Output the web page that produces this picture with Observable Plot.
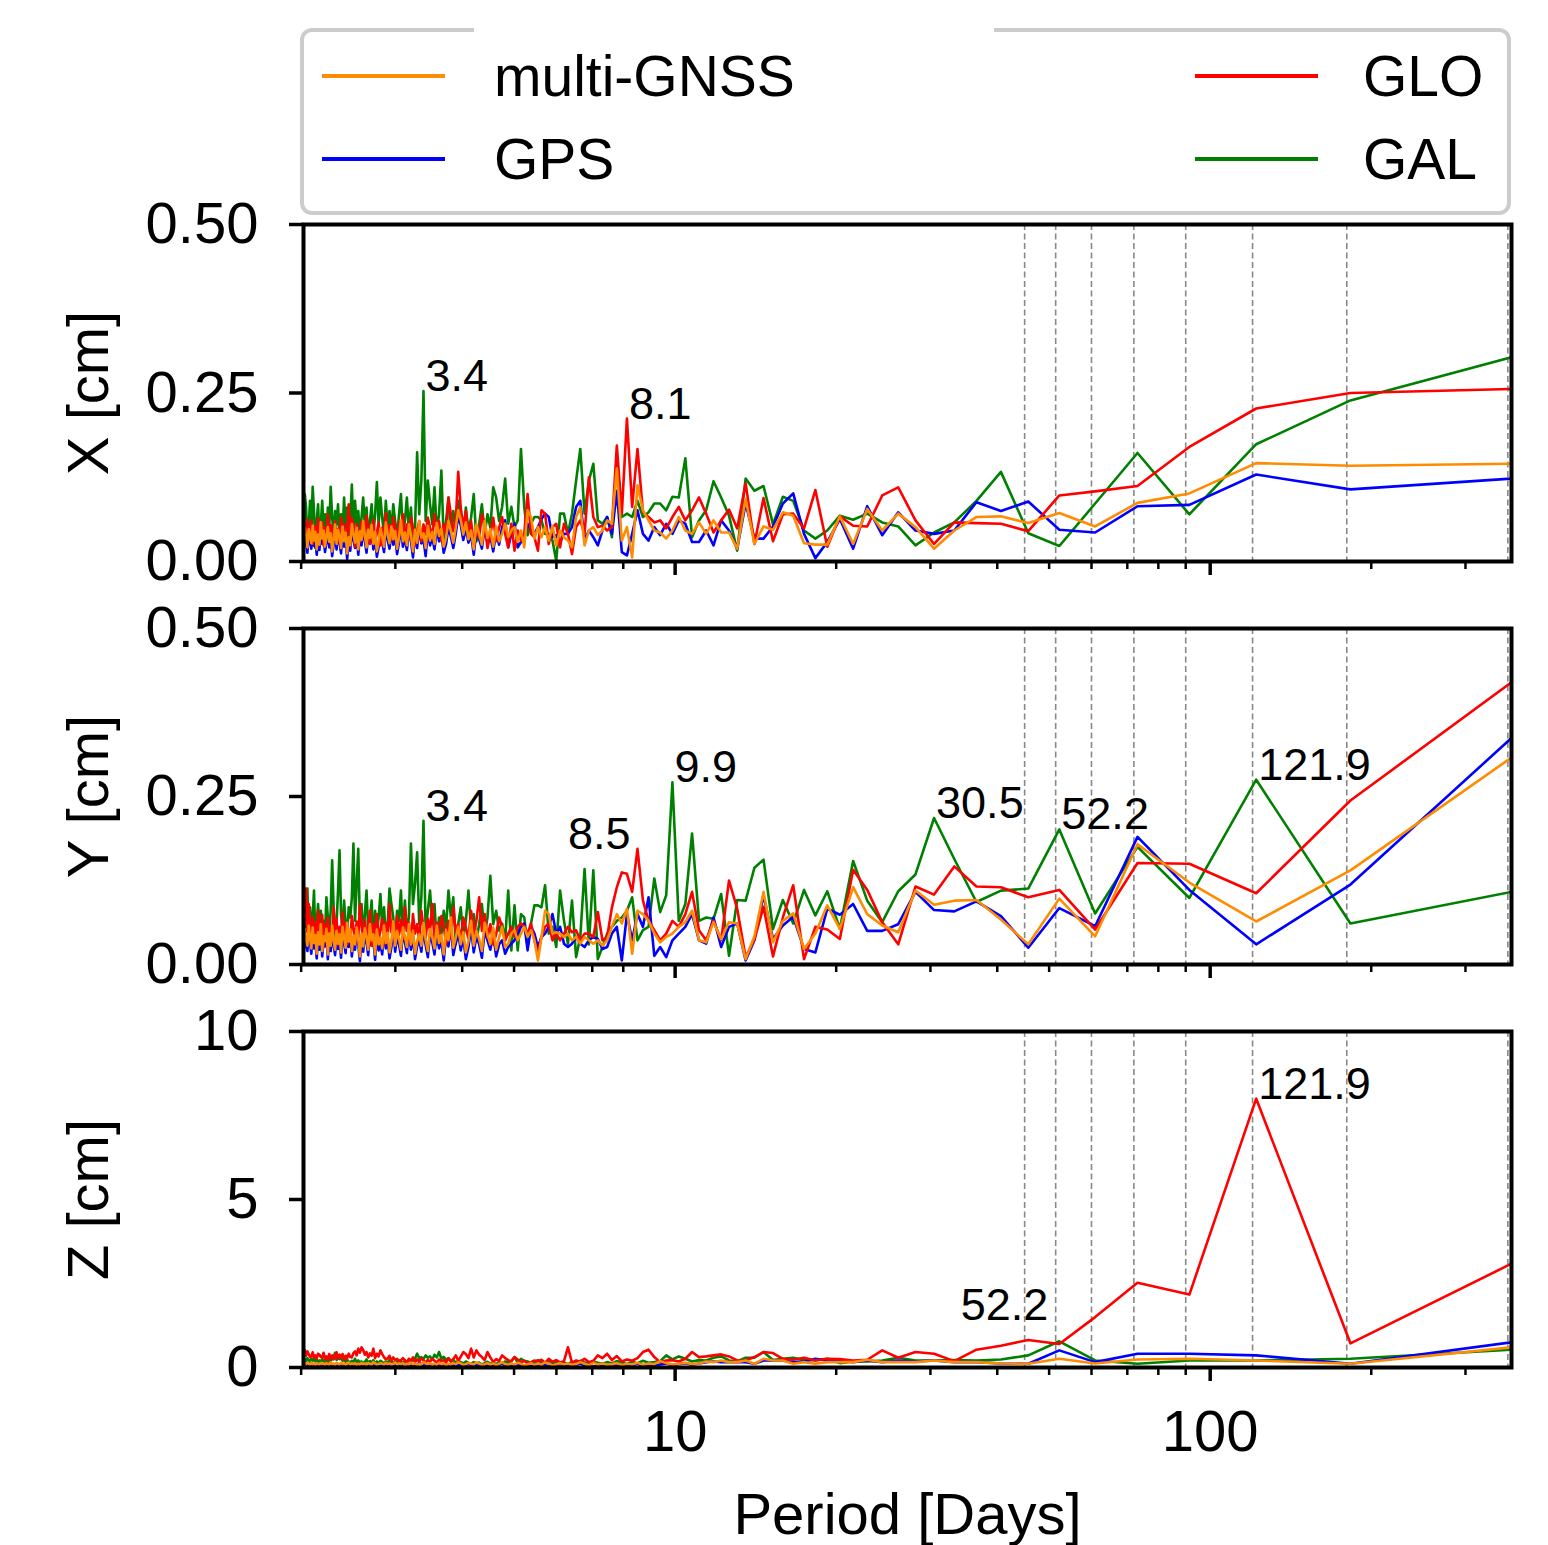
<!DOCTYPE html>
<html><head><meta charset="utf-8">
<script src="https://cdn.jsdelivr.net/npm/d3@7"></script>
<script src="https://cdn.jsdelivr.net/npm/@observablehq/plot@0.6"></script>
<style>
body{margin:0;background:#fff;width:1548px;height:1545px;position:relative;overflow:hidden;font-family:"Liberation Sans",Arial,sans-serif;color:#000;}
.panel{position:absolute;left:0;}
#legend{position:absolute;left:300px;top:28px;width:1211px;height:187px;box-sizing:border-box;border:4px solid #cccccc;border-radius:12px;background:#fff;}
#gap{position:absolute;left:474px;top:27px;width:520px;height:7px;background:#fff;}
.lh{position:absolute;height:4px;width:123px;}
.lt{position:absolute;font-size:57px;line-height:1;transform:translateY(-50%);white-space:nowrap;}
</style></head><body>
<div id="legend"></div>
<div id="gap"></div>
<div id="px" class="panel"></div>
<div id="py" class="panel"></div>
<div id="pz" class="panel"></div>
<script>
// ---- data: spectrum amplitudes (cm) for harmonic k = 1..181, period = T / k ----
const T = 365.7;
const seriesNames = ["multi-GNSS", "GPS", "GLO", "GAL"];
const seriesColors = ["#ff8c00", "#0000ff", "#ff0000", "#008000"];
const drawOrder = ["GAL", "GPS", "GLO", "multi-GNSS"];
const harmonicPeriods = [360, 180, 120, 90, 72, 60, 51.43, 45];
const majorTicks = [10, 100];
const minorTicks = [2,3,4,5,6,7,8,9,20,30,40,50,60,70,80,90,200,300];

const xMulti = [
0.145,0.142,0.146,0.101,0.087,0.052,0.072,0.057,0.067,0.066,
0.046,0.019,0.051,0.071,0.046,0.078,0.026,0.067,0.025,0.025,
0.027,0.068,0.073,0.047,0.052,0.026,0.093,0.019,0.043,0.043,
0.061,0.041,0.058,0.041,0.046,0.066,0.046,0.034,0.043,0.046,
0.061,0.076,0.113,0.006,0.051,0.031,0.138,0.056,0.061,0.046,
0.039,0.051,0.046,0.024,0.081,0.066,0.021,0.031,0.036,0.046,
0.024,0.053,0.031,0.051,0.036,0.051,0.034,0.066,0.076,0.021,
0.046,0.029,0.051,0.046,0.036,0.056,0.041,0.030,0.052,0.022,
0.048,0.035,0.060,0.025,0.041,0.055,0.018,0.046,0.033,0.058,
0.040,0.062,0.076,0.050,0.028,0.045,0.060,0.035,0.022,0.049,
0.038,0.057,0.026,0.044,0.031,0.053,0.020,0.042,0.035,0.060,
0.028,0.047,0.015,0.039,0.055,0.024,0.043,0.030,0.061,0.036,
0.019,0.045,0.033,0.052,0.027,0.040,0.058,0.022,0.037,0.049,
0.030,0.015,0.044,0.026,0.054,0.035,0.047,0.021,0.039,0.060,
0.032,0.045,0.018,0.050,0.028,0.041,0.056,0.024,0.036,0.012,
0.043,0.030,0.052,0.020,0.038,0.047,0.026,0.055,0.033,0.015,
0.042,0.029,0.051,0.037,0.022,0.046,0.034,0.058,0.025,0.040,
0.018,0.044,0.031,0.053,0.027,0.039,0.048,0.021,0.036,0.050,
0.030];
const xGPS = [
0.123,0.107,0.129,0.084,0.082,0.043,0.047,0.089,0.075,0.088,
0.046,0.041,0.046,0.073,0.039,0.082,0.019,0.063,0.029,0.005,
0.041,0.101,0.086,0.052,0.034,0.034,0.086,0.019,0.046,0.061,
0.024,0.046,0.029,0.029,0.056,0.061,0.041,0.056,0.039,0.051,
0.031,0.041,0.076,0.041,0.009,0.014,0.105,0.041,0.066,0.046,
0.024,0.036,0.046,0.031,0.090,0.081,0.051,0.041,0.041,0.029,
0.039,0.036,0.066,0.071,0.063,0.051,0.041,0.046,0.056,0.036,
0.029,0.021,0.056,0.041,0.021,0.061,0.051,0.025,0.044,0.015,
0.038,0.027,0.050,0.019,0.033,0.046,0.010,0.040,0.028,0.049,
0.032,0.054,0.068,0.041,0.020,0.037,0.051,0.026,0.013,0.042,
0.030,0.048,0.018,0.036,0.024,0.045,0.008,0.033,0.027,0.051,
0.020,0.039,0.006,0.031,0.046,0.017,0.035,0.022,0.052,0.028,
0.011,0.037,0.025,0.044,0.019,0.032,0.049,0.014,0.029,0.041,
0.022,0.007,0.036,0.018,0.045,0.027,0.039,0.013,0.031,0.050,
0.024,0.037,0.010,0.042,0.020,0.033,0.047,0.016,0.028,0.004,
0.035,0.022,0.044,0.012,0.030,0.039,0.018,0.046,0.025,0.008,
0.034,0.021,0.043,0.029,0.014,0.038,0.026,0.049,0.017,0.032,
0.010,0.036,0.023,0.045,0.019,0.031,0.040,0.013,0.028,0.042,
0.022];
const xGLO = [
0.256,0.250,0.227,0.170,0.112,0.104,0.098,0.045,0.056,0.057,
0.058,0.026,0.061,0.110,0.098,0.052,0.053,0.067,0.022,0.106,
0.049,0.071,0.070,0.030,0.094,0.026,0.116,0.049,0.077,0.061,
0.043,0.071,0.095,0.076,0.061,0.081,0.066,0.049,0.061,0.058,
0.066,0.073,0.167,0.081,0.212,0.071,0.172,0.051,0.046,0.053,
0.051,0.066,0.125,0.041,0.061,0.051,0.011,0.041,0.056,0.021,
0.056,0.051,0.026,0.071,0.076,0.016,0.036,0.041,0.100,0.041,
0.031,0.046,0.016,0.056,0.021,0.041,0.066,0.050,0.030,0.065,
0.040,0.020,0.055,0.070,0.035,0.050,0.025,0.060,0.040,0.075,
0.050,0.080,0.133,0.060,0.045,0.070,0.095,0.040,0.055,0.030,
0.060,0.045,0.070,0.035,0.050,0.065,0.040,0.055,0.030,0.060,
0.045,0.025,0.050,0.065,0.035,0.055,0.030,0.070,0.040,0.058,
0.028,0.048,0.066,0.032,0.054,0.040,0.072,0.036,0.050,0.024,
0.058,0.042,0.030,0.062,0.046,0.026,0.052,0.068,0.034,0.048,
0.060,0.030,0.044,0.056,0.022,0.050,0.064,0.038,0.085,0.042,
0.030,0.055,0.040,0.066,0.028,0.048,0.035,0.060,0.044,0.026,
0.054,0.038,0.070,0.032,0.050,0.024,0.058,0.042,0.036,0.064,
0.030,0.052,0.046,0.026,0.060,0.040,0.034,0.062,0.044,0.056,
0.036];
const xGAL = [
0.303,0.239,0.174,0.070,0.161,0.086,0.023,0.042,0.133,0.090,
0.058,0.043,0.024,0.052,0.058,0.071,0.062,0.068,0.046,0.034,
0.046,0.090,0.096,0.055,0.112,0.105,0.123,0.016,0.068,0.095,
0.119,0.076,0.061,0.036,0.153,0.095,0.096,0.076,0.086,0.086,
0.073,0.066,0.090,0.066,0.071,0.066,0.155,0.036,0.066,0.056,
0.061,0.145,0.120,0.071,0.167,0.120,0.071,0.041,0.071,0.071,
0.001,0.031,0.041,0.041,0.061,0.066,0.066,0.056,0.039,0.081,
0.167,0.061,0.051,0.081,0.056,0.123,0.081,0.060,0.095,0.110,
0.050,0.070,0.040,0.085,0.055,0.030,0.100,0.065,0.045,0.080,
0.035,0.070,0.090,0.050,0.075,0.040,0.095,0.060,0.030,0.135,
0.070,0.045,0.110,0.055,0.085,0.120,0.060,0.253,0.120,0.070,
0.162,0.050,0.030,0.080,0.045,0.095,0.060,0.040,0.100,0.070,
0.035,0.060,0.085,0.045,0.075,0.050,0.090,0.040,0.065,0.095,
0.055,0.118,0.070,0.040,0.085,0.060,0.030,0.080,0.050,0.095,
0.065,0.040,0.075,0.055,0.090,0.045,0.114,0.060,0.035,0.080,
0.050,0.095,0.040,0.070,0.030,0.085,0.055,0.075,0.040,0.065,
0.111,0.050,0.080,0.030,0.070,0.045,0.090,0.055,0.035,0.085,
0.060,0.020,0.075,0.111,0.040,0.090,0.050,0.030,0.080,0.100,
0.050];

const yMulti = [
0.308,0.140,0.064,0.122,0.179,0.042,0.098,0.030,0.067,0.096,
0.095,0.089,0.110,0.048,0.058,0.075,0.115,0.053,0.088,0.046,
0.023,0.076,0.065,0.033,0.108,0.042,0.008,0.061,0.063,0.038,
0.063,0.033,0.036,0.080,0.063,0.056,0.046,0.041,0.033,0.046,
0.065,0.075,0.080,0.016,0.083,0.061,0.075,0.056,0.036,0.028,
0.036,0.031,0.036,0.041,0.031,0.041,0.036,0.046,0.041,0.046,
0.048,0.046,0.075,0.080,0.041,0.006,0.036,0.051,0.041,0.056,
0.046,0.036,0.051,0.046,0.031,0.026,0.056,0.040,0.022,0.055,
0.030,0.045,0.062,0.020,0.038,0.050,0.028,0.065,0.035,0.018,
0.048,0.030,0.056,0.040,0.025,0.070,0.036,0.050,0.015,0.044,
0.032,0.058,0.024,0.041,0.053,0.020,0.037,0.062,0.028,0.045,
0.035,0.016,0.050,0.030,0.060,0.026,0.042,0.055,0.022,0.038,
0.050,0.028,0.064,0.034,0.018,0.047,0.032,0.058,0.024,0.040,
0.030,0.052,0.015,0.045,0.036,0.060,0.022,0.041,0.054,0.027,
0.046,0.012,0.038,0.055,0.030,0.043,0.020,0.052,0.034,0.062,
0.025,0.040,0.056,0.018,0.045,0.031,0.050,0.022,0.037,0.058,
0.028,0.046,0.015,0.053,0.035,0.042,0.020,0.060,0.030,0.048,
0.016,0.044,0.032,0.055,0.024,0.040,0.058,0.028,0.036,0.050,
0.040];
const yGPS = [
0.337,0.119,0.030,0.111,0.190,0.057,0.084,0.025,0.072,0.094,
0.079,0.081,0.108,0.060,0.050,0.050,0.090,0.074,0.083,0.018,
0.023,0.071,0.058,0.038,0.103,0.036,0.006,0.061,0.056,0.026,
0.070,0.031,0.036,0.075,0.056,0.046,0.036,0.011,0.026,0.013,
0.100,0.056,0.075,0.036,0.075,0.006,0.056,0.046,0.026,0.023,
0.038,0.041,0.036,0.026,0.031,0.041,0.031,0.026,0.031,0.056,
0.046,0.075,0.056,0.046,0.041,0.026,0.046,0.056,0.021,0.061,
0.056,0.046,0.036,0.031,0.026,0.016,0.036,0.030,0.012,0.045,
0.022,0.036,0.050,0.010,0.030,0.042,0.018,0.055,0.026,0.008,
0.040,0.021,0.047,0.032,0.014,0.060,0.027,0.042,0.006,0.035,
0.024,0.050,0.015,0.033,0.046,0.011,0.029,0.054,0.019,0.037,
0.027,0.008,0.043,0.022,0.052,0.017,0.034,0.047,0.013,0.030,
0.042,0.019,0.056,0.026,0.009,0.039,0.024,0.050,0.015,0.032,
0.021,0.044,0.007,0.037,0.028,0.052,0.014,0.033,0.046,0.019,
0.038,0.005,0.030,0.047,0.022,0.035,0.012,0.044,0.026,0.054,
0.017,0.032,0.048,0.010,0.037,0.023,0.042,0.014,0.029,0.050,
0.020,0.038,0.008,0.045,0.027,0.034,0.012,0.052,0.022,0.040,
0.009,0.036,0.024,0.047,0.016,0.032,0.050,0.020,0.028,0.042,
0.030];
const yGLO = [
0.420,0.244,0.106,0.150,0.151,0.052,0.111,0.100,0.115,0.116,
0.146,0.104,0.116,0.030,0.063,0.111,0.141,0.038,0.052,0.056,
0.008,0.118,0.070,0.012,0.086,0.037,0.011,0.083,0.125,0.036,
0.065,0.036,0.051,0.108,0.075,0.056,0.065,0.046,0.036,0.051,
0.065,0.095,0.172,0.108,0.135,0.137,0.115,0.085,0.041,0.036,
0.078,0.041,0.046,0.046,0.036,0.051,0.048,0.056,0.046,0.036,
0.046,0.036,0.061,0.056,0.041,0.016,0.036,0.061,0.046,0.056,
0.061,0.056,0.041,0.056,0.046,0.036,0.056,0.070,0.045,0.030,
0.060,0.040,0.075,0.050,0.100,0.065,0.045,0.080,0.038,0.055,
0.070,0.035,0.060,0.048,0.085,0.040,0.065,0.030,0.058,0.072,
0.045,0.062,0.035,0.090,0.050,0.068,0.040,0.055,0.080,0.036,
0.060,0.046,0.075,0.030,0.062,0.050,0.085,0.038,0.066,0.044,
0.072,0.035,0.055,0.048,0.090,0.040,0.062,0.030,0.068,0.052,
0.036,0.075,0.045,0.060,0.028,0.080,0.050,0.042,0.066,0.035,
0.058,0.090,0.040,0.064,0.032,0.055,0.072,0.038,0.050,0.030,
0.062,0.044,0.078,0.036,0.056,0.030,0.068,0.048,0.085,0.040,
0.055,0.034,0.070,0.046,0.060,0.028,0.074,0.042,0.052,0.080,
0.038,0.062,0.045,0.070,0.030,0.058,0.090,0.048,0.113,0.060,
0.100];
const yGAL = [
0.108,0.061,0.275,0.099,0.175,0.076,0.201,0.113,0.110,0.093,
0.157,0.218,0.134,0.109,0.063,0.095,0.154,0.053,0.109,0.073,
0.111,0.061,0.096,0.053,0.156,0.144,0.095,0.096,0.013,0.105,
0.068,0.070,0.065,0.195,0.090,0.065,0.271,0.103,0.078,0.128,
0.056,0.051,0.036,0.100,0.080,0.070,0.065,0.056,0.046,0.026,
0.008,0.140,0.030,0.142,0.041,0.011,0.095,0.031,0.065,0.110,
0.026,0.056,0.046,0.118,0.085,0.088,0.088,0.061,0.026,0.070,
0.075,0.021,0.088,0.021,0.110,0.036,0.061,0.050,0.080,0.060,
0.132,0.070,0.045,0.090,0.060,0.035,0.075,0.050,0.110,0.065,
0.040,0.085,0.060,0.030,0.100,0.070,0.110,0.055,0.080,0.045,
0.070,0.030,0.090,0.060,0.110,0.080,0.050,0.214,0.100,0.060,
0.167,0.120,0.090,0.180,0.070,0.050,0.095,0.040,0.110,0.065,
0.080,0.035,0.070,0.090,0.113,0.060,0.040,0.085,0.055,0.105,
0.070,0.045,0.080,0.030,0.095,0.065,0.050,0.110,0.075,0.040,
0.090,0.060,0.172,0.120,0.065,0.180,0.100,0.070,0.085,0.045,
0.060,0.095,0.050,0.075,0.170,0.110,0.060,0.040,0.085,0.155,
0.080,0.050,0.070,0.100,0.045,0.065,0.035,0.080,0.055,0.090,
0.060,0.040,0.110,0.070,0.050,0.085,0.030,0.113,0.070,0.055,
0.080];

const zMulti = [
0.60,0.11,0.21,0.26,0.24,0.12,0.26,0.11,0.12,0.16,
0.16,0.21,0.16,0.16,0.16,0.23,0.16,0.16,0.16,0.11,
0.16,0.11,0.21,0.21,0.26,0.11,0.21,0.16,0.16,0.21,
0.16,0.18,0.12,0.10,0.14,0.11,0.09,0.13,0.19,0.10,
0.12,0.08,0.14,0.09,0.11,0.07,0.13,0.10,0.08,0.12,
0.09,0.14,0.07,0.11,0.16,0.10,0.08,0.12,0.09,0.13,
0.10,0.07,0.12,0.15,0.09,0.11,0.08,0.13,0.10,0.06,
0.11,0.14,0.09,0.12,0.08,0.10,0.16,0.11,0.07,0.12,
0.09,0.13,0.10,0.08,0.12,0.15,0.09,0.11,0.14,0.10,
0.08,0.12,0.16,0.10,0.13,0.09,0.11,0.07,0.12,0.10,
0.14,0.09,0.11,0.08,0.13,0.10,0.12,0.16,0.09,0.11,
0.08,0.12,0.10,0.14,0.09,0.11,0.07,0.13,0.10,0.12,
0.09,0.15,0.11,0.08,0.12,0.10,0.14,0.09,0.11,0.13,
0.10,0.08,0.12,0.16,0.09,0.11,0.13,0.08,0.12,0.10,
0.14,0.09,0.11,0.07,0.13,0.10,0.12,0.09,0.15,0.11,
0.08,0.12,0.10,0.14,0.09,0.11,0.13,0.08,0.12,0.10,
0.15,0.09,0.11,0.13,0.08,0.12,0.10,0.14,0.09,0.11,
0.13,0.08,0.12,0.10,0.15,0.09,0.11,0.14,0.10,0.12,
0.16];
const zGPS = [
0.75,0.11,0.36,0.41,0.41,0.16,0.51,0.11,0.12,0.16,
0.16,0.21,0.18,0.21,0.16,0.21,0.16,0.21,0.21,0.26,
0.18,0.16,0.21,0.21,0.21,0.11,0.16,0.16,0.16,0.16,
0.18,0.16,0.12,0.08,0.13,0.10,0.07,0.12,0.09,0.06,
0.08,0.05,0.11,0.06,0.09,0.04,0.07,0.10,0.05,0.08,
0.06,0.03,0.09,0.05,0.12,0.07,0.04,0.08,0.06,0.10,
0.05,0.09,0.04,0.07,0.11,0.06,0.08,0.03,0.07,0.05,
0.09,0.06,0.10,0.04,0.08,0.05,0.12,0.07,0.03,0.06,
0.08,0.05,0.10,0.06,0.04,0.09,0.07,0.05,0.11,0.06,
0.04,0.08,0.06,0.10,0.05,0.07,0.03,0.09,0.06,0.08,
0.05,0.12,0.07,0.04,0.09,0.06,0.08,0.05,0.10,0.14,
0.07,0.05,0.09,0.06,0.04,0.08,0.06,0.11,0.05,0.07,
0.09,0.04,0.07,0.05,0.10,0.06,0.08,0.03,0.07,0.05,
0.09,0.06,0.04,0.08,0.05,0.11,0.07,0.05,0.09,0.06,
0.04,0.08,0.06,0.10,0.05,0.07,0.04,0.09,0.06,0.08,
0.05,0.10,0.07,0.04,0.08,0.06,0.12,0.05,0.07,0.09,
0.06,0.04,0.08,0.05,0.10,0.07,0.04,0.09,0.06,0.08,
0.05,0.07,0.10,0.06,0.04,0.08,0.05,0.11,0.07,0.06,
0.09];
const zGLO = [
3.09,0.72,8.00,2.17,2.52,1.50,0.70,0.82,0.65,0.53,
0.19,0.41,0.46,0.29,0.51,0.23,0.21,0.25,0.26,0.21,
0.29,0.23,0.26,0.43,0.46,0.31,0.21,0.21,0.33,0.39,
0.36,0.33,0.31,0.46,0.26,0.18,0.22,0.21,0.16,0.31,
0.53,0.46,0.28,0.20,0.24,0.18,0.34,0.22,0.41,0.28,
0.36,0.20,0.16,0.26,0.18,0.21,0.14,0.60,0.19,0.15,
0.22,0.17,0.26,0.14,0.23,0.18,0.21,0.16,0.12,0.20,
0.15,0.24,0.31,0.18,0.22,0.28,0.36,0.20,0.25,0.16,
0.30,0.46,0.22,0.31,0.38,0.51,0.30,0.56,0.28,0.40,
0.46,0.32,0.20,0.36,0.25,0.18,0.27,0.15,0.22,0.19,
0.24,0.14,0.20,0.26,0.17,0.23,0.15,0.21,0.28,0.18,
0.24,0.16,0.30,0.20,0.26,0.14,0.22,0.28,0.21,0.18,
0.26,0.22,0.30,0.19,0.35,0.27,0.24,0.31,0.40,0.51,
0.33,0.41,0.28,0.56,0.35,0.42,0.30,0.46,0.38,0.52,
0.60,0.44,0.56,0.36,0.48,0.43,0.30,0.31,0.41,0.28,
0.35,0.22,0.40,0.30,0.38,0.26,0.45,0.31,0.24,0.36,
0.28,0.40,0.22,0.33,0.25,0.44,0.30,0.31,0.38,0.41,
0.26,0.36,0.30,0.45,0.33,0.31,0.40,0.48,0.35,0.52,
0.42];
const zGAL = [
0.53,0.26,0.21,0.21,0.11,0.21,0.78,0.36,0.24,0.21,
0.22,0.21,0.21,0.29,0.21,0.18,0.18,0.13,0.26,0.22,
0.22,0.29,0.26,0.22,0.46,0.29,0.29,0.18,0.21,0.33,
0.29,0.21,0.22,0.18,0.26,0.33,0.24,0.36,0.19,0.16,
0.14,0.20,0.12,0.17,0.10,0.15,0.19,0.12,0.16,0.11,
0.14,0.18,0.11,0.15,0.20,0.13,0.17,0.10,0.14,0.12,
0.16,0.13,0.19,0.11,0.15,0.22,0.14,0.12,0.18,0.20,
0.26,0.15,0.31,0.20,0.14,0.18,0.12,0.16,0.10,0.14,
0.11,0.17,0.13,0.09,0.15,0.12,0.16,0.10,0.14,0.18,
0.12,0.16,0.20,0.13,0.24,0.18,0.28,0.22,0.32,0.26,
0.46,0.30,0.38,0.24,0.33,0.29,0.36,0.25,0.31,0.28,
0.41,0.27,0.22,0.18,0.24,0.16,0.20,0.14,0.17,0.21,
0.15,0.19,0.13,0.17,0.22,0.14,0.18,0.12,0.16,0.20,
0.14,0.18,0.11,0.22,0.15,0.19,0.13,0.24,0.17,0.12,
0.18,0.15,0.21,0.13,0.26,0.16,0.20,0.14,0.18,0.23,
0.17,0.28,0.20,0.31,0.25,0.36,0.22,0.44,0.30,0.26,
0.20,0.24,0.16,0.22,0.14,0.19,0.25,0.17,0.21,0.15,
0.24,0.18,0.30,0.20,0.26,0.16,0.22,0.28,0.19,0.25,
0.20];

// peak annotations: [panel, series, harmonic k, label, anchor]
const annotations = [
  ["X","GAL",108,"3.4","start"], ["X","GLO",45,"8.1","start"],
  ["Y","GAL",108,"3.4","start"], ["Y","GLO",43,"8.5","end"], ["Y","GAL",37,"9.9","start"],
  ["Y","GAL",12,"30.5","start"], ["Y","GAL",7,"52.2","start"], ["Y","GAL",3,"121.9","start"],
  ["Z","GLO",3,"121.9","start"], ["Z","GAL",7,"52.2","above-end"]
];

const panels = {
  X: {series: {"multi-GNSS": xMulti, GPS: xGPS, GLO: xGLO, GAL: xGAL}, domain: [0, 0.5], ticks: [0, 0.25, 0.5], fmt: d3.format(".2f"), label: "X [cm]", el: "px", top: 224, h: 337, showX: false},
  Y: {series: {"multi-GNSS": yMulti, GPS: yGPS, GLO: yGLO, GAL: yGAL}, domain: [0, 0.5], ticks: [0, 0.25, 0.5], fmt: d3.format(".2f"), label: "Y [cm]", el: "py", top: 628, h: 336, showX: false},
  Z: {series: {"multi-GNSS": zMulti, GPS: zGPS, GLO: zGLO, GAL: zGAL}, domain: [0, 10], ticks: [0, 5, 10], fmt: d3.format("d"), label: "Z [cm]", el: "pz", top: 1031, h: 336, showX: true}
};

const FONT = '"Liberation Sans", Arial, sans-serif';
const FS = 58;

for (const [key, p] of Object.entries(panels)) {
  const data = [];
  for (const s of drawOrder) p.series[s].forEach((v, i) => data.push({series: s, period: T / (i + 1), value: v}));
  const ann = annotations.filter(a => a[0] === key).map(a => ({series: a[1], period: T / a[2], value: p.series[a[1]][a[2] - 1], text: a[3], anchor: a[4]}));
  const mt = 40, mb = p.showX ? 180 : 40;
  const chart = Plot.plot({
    width: 1548, height: mt + p.h + mb,
    marginLeft: 303, marginRight: 37, marginTop: mt, marginBottom: mb,
    style: {fontFamily: FONT, fontSize: FS + "px", color: "#000", background: "transparent", overflow: "visible"},
    x: {type: "log", domain: [T / 181, T]},
    y: {domain: p.domain},
    color: {domain: seriesNames, range: seriesColors},
    marks: [
      Plot.ruleX(harmonicPeriods, {stroke: "#888888", strokeWidth: 1.6, strokeDasharray: "6,3.5"}),
      Plot.line(data, {x: "period", y: "value", z: "series", stroke: "series", strokeWidth: 2.6, clip: true}),
      Plot.text(ann.filter(d => d.anchor === "start"), {x: "period", y: "value", text: "text", textAnchor: "start", lineAnchor: "bottom", dx: 2, fontSize: 45}),
      Plot.text(ann.filter(d => d.anchor === "end"), {x: "period", y: "value", text: "text", textAnchor: "end", lineAnchor: "bottom", dx: -7, fontSize: 45}),
      Plot.text(ann.filter(d => d.anchor === "above-end"), {x: "period", y: "value", text: "text", textAnchor: "end", lineAnchor: "bottom", dx: -11, dy: -21, fontSize: 45}),
      Plot.frame({stroke: "#000", strokeWidth: 4}),
      Plot.axisY({ticks: p.ticks, tickFormat: p.fmt, tickSize: 14, tickPadding: 31, strokeWidth: 3.5, label: null, fontSize: FS}),
      Plot.axisX({ticks: majorTicks, tickSize: 14, tickPadding: 28, tickFormat: p.showX ? (d => String(d)) : (() => ""), strokeWidth: 3.5, label: null, fontSize: FS}),
      Plot.axisX({ticks: minorTicks, tickSize: 8, tickFormat: () => "", strokeWidth: 2.5, label: null}),
      Plot.text([p.label], {frameAnchor: "left", text: d => d, rotate: -90, textAnchor: "middle", lineAnchor: "middle", dx: -214, fontSize: 58}),
      p.showX ? Plot.text(["Period [Days]"], {frameAnchor: "bottom", text: d => d, textAnchor: "middle", dy: 148, lineAnchor: "middle", fontSize: 58}) : null
    ]
  });
  const holder = document.getElementById(p.el);
  holder.style.top = (p.top - mt) + "px";
  holder.appendChild(chart);
}

// legend (2 columns, column-major like the original)
const legend = document.getElementById("legend");
const cols = [[0, 1], [2, 3]];
const colHandle = [18, 891], colText = [190, 1059], rowY = [44, 127];
cols.forEach((col, ci) => col.forEach((si, ri) => {
  const h = document.createElement("div");
  h.className = "lh";
  h.style.left = colHandle[ci] + "px";
  h.style.top = (rowY[ri] - 2) + "px";
  h.style.background = seriesColors[si];
  legend.appendChild(h);
  const t = document.createElement("div");
  t.className = "lt";
  t.style.left = colText[ci] + "px";
  t.style.top = rowY[ri] + "px";
  t.textContent = seriesNames[si];
  legend.appendChild(t);
}));
</script>
</body></html>
